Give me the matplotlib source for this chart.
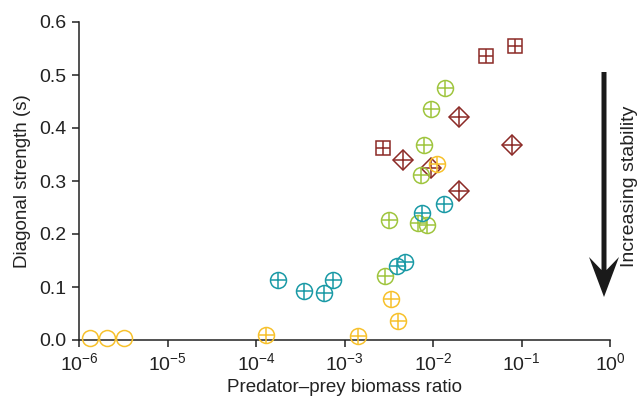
import matplotlib
matplotlib.use("Agg")
import matplotlib.pyplot as plt
from matplotlib.patches import Polygon
from matplotlib.ticker import LogLocator, NullLocator, FormatStrFormatter

plt.rcParams['font.family'] = ['Liberation Sans', 'DejaVu Sans']
plt.rcParams['mathtext.default'] = 'regular'

# plain open circles (yellow)
open_x = [1.33e-6, 2.07e-6, 3.24e-6]
open_y = [0.003, 0.003, 0.003]

# circled plus, yellow
yel_x = [1.30e-4, 1.43e-3, 3.38e-3, 4.03e-3, 1.10e-2]
yel_y = [0.009, 0.008, 0.077, 0.036, 0.333]

# circled plus, teal
teal_x = [1.77e-4, 3.46e-4, 5.92e-4, 7.48e-4, 3.89e-3, 4.83e-3, 7.52e-3, 1.32e-2]
teal_y = [0.114, 0.092, 0.089, 0.113, 0.140, 0.147, 0.240, 0.256]

# circled plus, green
green_x = [2.84e-3, 3.15e-3, 6.82e-3, 8.55e-3, 7.31e-3, 7.98e-3, 9.48e-3, 1.37e-2]
green_y = [0.121, 0.226, 0.220, 0.217, 0.311, 0.368, 0.435, 0.476]

# diamonds with plus, dark red
dia_x = [4.54e-3, 9.48e-3, 1.97e-2, 1.97e-2, 7.87e-2]
dia_y = [0.340, 0.324, 0.420, 0.281, 0.367]

# squares with plus, dark red
sq_x = [2.70e-3, 4.0e-2, 8.51e-2]
sq_y = [0.362, 0.535, 0.555]

YELLOW = '#F7C12C'
TEAL = '#1A9AA6'
GREEN = '#9FC53E'
RED = '#8C2A26'

W, H = 640, 397
fig = plt.figure(figsize=(W / 100, H / 100), dpi=100)
L, R, T, B = 79, 610, 22, 340
ax = fig.add_axes([L / W, (H - B) / H, (R - L) / W, (B - T) / H])

def cross_marks(x, y, color, shape, ms, pms, z):
    ax.plot(x, y, ls='none', marker=shape, ms=ms, mfc='none', mec=color,
            mew=1.1, clip_on=False, zorder=z)
    ax.plot(x, y, ls='none', marker='+', ms=pms, mec=color,
            mew=1.1, clip_on=False, zorder=z)

cross_marks(dia_x, dia_y, RED, 'D', 9.8, 13.6, 3)
cross_marks(sq_x, sq_y, RED, 's', 10.4, 10.4, 3)
cross_marks(green_x, green_y, GREEN, 'o', 11.5, 11.5, 4)
cross_marks(teal_x, teal_y, TEAL, 'o', 11.5, 11.5, 5)
cross_marks(yel_x, yel_y, YELLOW, 'o', 11.5, 11.5, 6)
ax.plot(open_x, open_y, ls='none', marker='o', ms=11.5, mfc='none',
        mec=YELLOW, mew=1.1, clip_on=False, zorder=6)

ax.set_xscale('log')
ax.set_xlim(1e-6, 1)
ax.set_ylim(0, 0.6)
ax.xaxis.set_major_locator(LogLocator(base=10, numticks=10))
ax.xaxis.set_minor_locator(NullLocator())
ax.set_yticks([0.0, 0.1, 0.2, 0.3, 0.4, 0.5, 0.6])
ax.yaxis.set_major_formatter(FormatStrFormatter('%.1f'))

for s in ['top', 'right']:
    ax.spines[s].set_visible(False)
for s in ['left', 'bottom']:
    ax.spines[s].set_linewidth(1.1)
    ax.spines[s].set_color('#222222')
ax.tick_params(direction='out', length=5, width=1.1, color='#222222',
               labelsize=14, labelcolor='#222222', pad=4)

ax.set_xlabel('Predator\u2013prey biomass ratio', fontsize=13.5, color='#222222',
              labelpad=3)
ax.set_ylabel('Diagonal strength (s)', fontsize=13.5, color='#222222', labelpad=6)

# arrow drawn in axes fraction, geometry from pixel layout
def px(xp, yp):
    return ((xp - L) / (R - L), (B - yp) / (B - T))

cx = 604
arrow_pts = [px(cx - 2.5, 72), px(cx + 2.5, 72), px(cx + 2.5, 270),
             px(cx + 15, 257), px(cx, 297), px(cx - 15, 257),
             px(cx - 2.5, 270)]
ax.add_patch(Polygon(arrow_pts, closed=True, transform=ax.transAxes,
                     facecolor='#1a1a1a', edgecolor='none', clip_on=False))

tx, ty = px(629, 186)
ax.text(tx, ty, 'Increasing stability', transform=ax.transAxes, rotation=90,
        ha='center', va='center', fontsize=14, color='#222222')

fig.savefig('out.png', dpi=100)
